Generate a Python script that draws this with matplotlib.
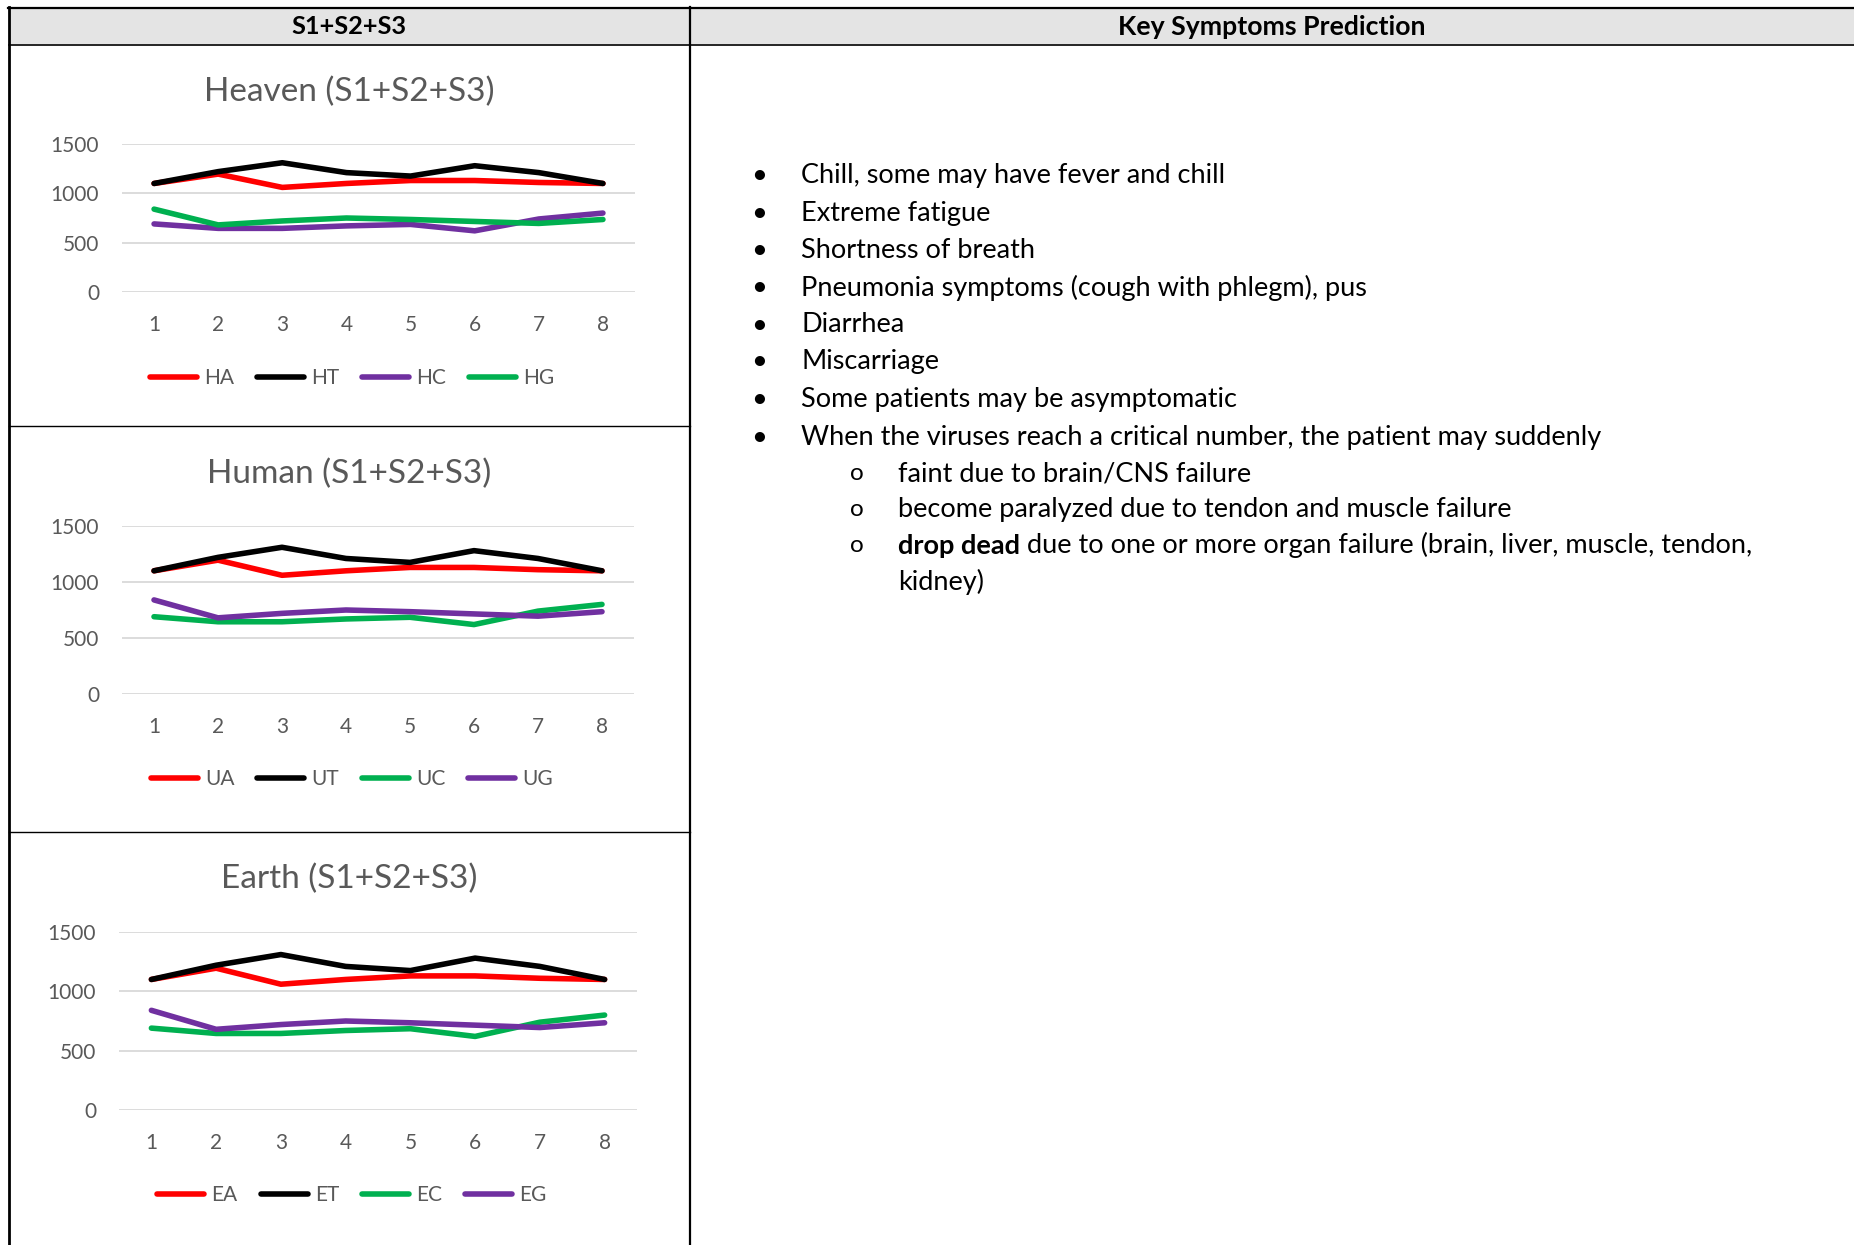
import matplotlib
matplotlib.use("Agg")
import matplotlib.pyplot as plt
from matplotlib.lines import Line2D
from matplotlib.patches import Rectangle

# ---- data ----
periods = [1, 2, 3, 4, 5, 6, 7, 8]
y_ticks = [0, 500, 1000, 1500]

heaven_a = [1100, 1195, 1060, 1100, 1130, 1130, 1110, 1100]
heaven_t = [1100, 1220, 1310, 1210, 1175, 1280, 1210, 1100]
heaven_c = [690, 645, 645, 670, 685, 620, 740, 800]
heaven_g = [840, 680, 720, 750, 735, 715, 695, 735]

human_a = [1100, 1195, 1060, 1100, 1130, 1130, 1110, 1100]
human_t = [1100, 1220, 1310, 1210, 1175, 1280, 1210, 1100]
human_c = [690, 645, 645, 670, 685, 620, 740, 800]
human_g = [840, 680, 720, 750, 735, 715, 695, 735]

earth_a = [1100, 1195, 1060, 1100, 1130, 1130, 1110, 1100]
earth_t = [1100, 1220, 1310, 1210, 1175, 1280, 1210, 1100]
earth_c = [690, 645, 645, 670, 685, 620, 740, 800]
earth_g = [840, 680, 720, 750, 735, 715, 695, 735]

symptoms = [
    "Chill, some may have fever and chill",
    "Extreme fatigue",
    "Shortness of breath",
    "Pneumonia symptoms (cough with phlegm), pus",
    "Diarrhea",
    "Miscarriage",
    "Some patients may be asymptomatic",
    "When the viruses reach a critical number, the patient may suddenly",
]
sub_symptoms = [
    "faint due to brain/CNS failure",
    "become paralyzed due to tendon and muscle failure",
]
last_bold = "drop dead"
last_rest = " due to one or more organ failure (brain, liver, muscle, tendon,"
last_wrap = "kidney)"

RED, BLACK, PURPLE, GREEN = "#ff0000", "#000000", "#7030a0", "#00b050"
GRAY = "#595959"
FONT = "Lato"

W, H = 1854, 1245
plt.rcParams["font.family"] = [FONT, "DejaVu Sans"]
fig = plt.figure(figsize=(W / 100, H / 100), dpi=100)


def fx(px):
    return px / W


def fy(py):
    return 1 - py / H


def hline(y, x0, x1, lw):
    fig.add_artist(Line2D([fx(x0), fx(x1)], [fy(y), fy(y)], color="black",
                          lw=lw, transform=fig.transFigure))


def vline(x, y0, y1, lw):
    fig.add_artist(Line2D([fx(x), fx(x)], [fy(y0), fy(y1)], color="black",
                          lw=lw, transform=fig.transFigure))


# ---- table frame ----
fig.add_artist(Rectangle((fx(9), fy(44)), fx(W) - fx(9), fy(8) - fy(44),
                         transform=fig.transFigure, facecolor="#e4e4e4",
                         edgecolor="none", zorder=0))
hline(8, 8, W, 1.6)
hline(44.5, 9, W, 1.2)
vline(9, 7, H, 2.0)
vline(690, 7, H, 1.6)
hline(426.5, 9, 690, 1.0)
hline(831.5, 9, 690, 1.0)

fig.text(fx(349), fy(27), "S1+S2+S3", ha="center", va="center",
         fontsize=18.3, fontweight="bold")
fig.text(fx(1272), fy(27), "Key Symptoms Prediction", ha="center",
         va="center", fontsize=19.2, fontweight="bold")


def draw_chart(box, title, title_y, legend_y, series):
    left, right, top, bottom = box
    ax = fig.add_axes([fx(left), fy(bottom), fx(right) - fx(left),
                       fy(top) - fy(bottom)])
    for label, values, color in series:
        ax.plot(periods, values, color=color, lw=4.0, label=label,
                solid_capstyle="round", solid_joinstyle="round")
    ax.set_xlim(0.5, 8.5)
    ax.set_ylim(0, 1500)
    ax.set_xticks(periods)
    ax.set_yticks(y_ticks)
    ax.grid(axis="y", color="#d9d9d9", lw=1.3)
    ax.set_axisbelow(True)
    for s in ax.spines.values():
        s.set_visible(False)
    ax.tick_params(axis="x", length=0, pad=16.5, labelsize=15, labelcolor=GRAY)
    ax.tick_params(axis="y", length=0, pad=16.5, labelsize=15, labelcolor=GRAY)
    ax.patch.set_alpha(0)
    fig.text(fx(349), fy(title_y), title, ha="center", va="center",
             fontsize=24, color=GRAY)
    leg = ax.legend(loc="center", bbox_to_anchor=(fx(352), fy(legend_y)),
                    bbox_transform=fig.transFigure, ncol=4, frameon=False,
                    fontsize=15, handlelength=2.25, handletextpad=0.35,
                    columnspacing=1.1)
    for t in leg.get_texts():
        t.set_color(GRAY)
    return ax


draw_chart((122, 635, 144, 292), "Heaven (S1+S2+S3)", 92, 378,
           [("HA", heaven_a, RED), ("HT", heaven_t, BLACK),
            ("HC", heaven_c, PURPLE), ("HG", heaven_g, GREEN)])
draw_chart((122, 634, 526, 694), "Human (S1+S2+S3)", 474, 779,
           [("UA", human_a, RED), ("UT", human_t, BLACK),
            ("UC", human_c, GREEN), ("UG", human_g, PURPLE)])
draw_chart((119, 637, 932, 1110), "Earth (S1+S2+S3)", 879, 1195,
           [("EA", earth_a, RED), ("ET", earth_t, BLACK),
            ("EC", earth_c, GREEN), ("EG", earth_g, PURPLE)])

# ---- symptom list ----
TEXT_SIZE = 19.5
bullet_y = [175, 213, 250, 288, 325, 362, 400, 438]
for y, s in zip(bullet_y, symptoms):
    fig.text(fx(759), fy(y), "\u2022", ha="center", va="center",
             fontsize=TEXT_SIZE)
    fig.text(fx(801), fy(y), s, ha="left", va="center", fontsize=TEXT_SIZE)

sub_y = [474, 510, 546]
for y in sub_y:
    fig.text(fx(857), fy(y), "o", ha="center", va="center",
             fontsize=TEXT_SIZE - 2)
for y, s in zip(sub_y, sub_symptoms):
    fig.text(fx(898), fy(y), s, ha="left", va="center", fontsize=TEXT_SIZE)

bold = fig.text(fx(898), fy(sub_y[2]), last_bold, ha="left", va="center",
                fontsize=TEXT_SIZE, fontweight="bold")
plt.annotate(last_rest, xy=(1, 0), xycoords=bold, ha="left", va="bottom",
             fontsize=TEXT_SIZE, annotation_clip=False)
fig.text(fx(898), fy(582), last_wrap, ha="left", va="center",
         fontsize=TEXT_SIZE)

fig.savefig("out.png", dpi=100)
